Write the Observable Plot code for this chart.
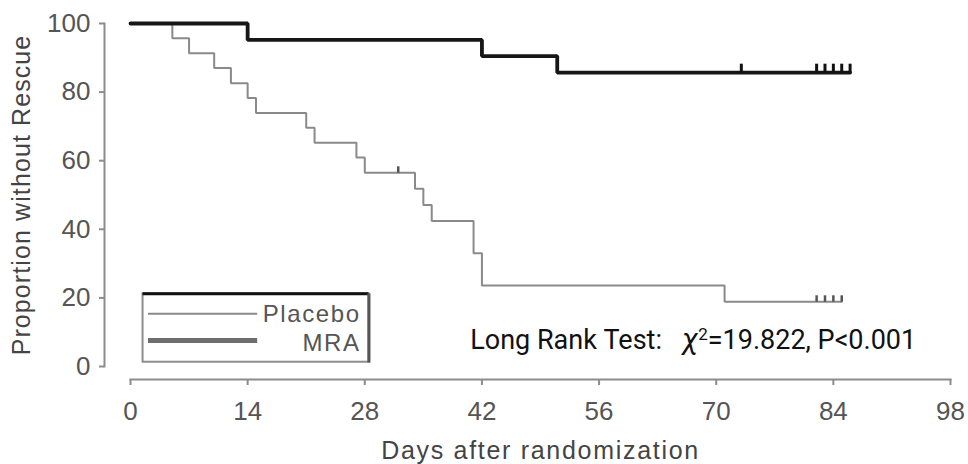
<!DOCTYPE html>
<html><head><meta charset="utf-8">
<script src="https://cdn.jsdelivr.net/npm/d3@7"></script>
<script src="https://cdn.jsdelivr.net/npm/@observablehq/plot@0.6"></script>
<style>body{margin:0;background:#fff} #chart{width:968px;height:464px}</style>
</head><body><div id="chart"></div>
<script>
// ---- data ----
const seriesNames = ["Placebo", "MRA"];
const placeboDays = [0, 5, 7, 10, 12, 14, 15, 21, 22, 27, 28, 34, 35, 36, 41, 42, 71, 85];
const placeboSurv = [100, 95.7, 91.3, 87.0, 82.6, 78.3, 73.9, 69.6, 65.2, 60.9, 56.5, 51.8, 47.1, 42.4, 33.0, 23.6, 18.9, 18.9];
const placeboCensorDays = [32, 82, 83, 84, 85];
const placeboCensorSurv = [56.5, 18.9, 18.9, 18.9, 18.9];
const mraDays = [0, 14, 42, 51, 86];
const mraSurv = [100, 95.2, 90.5, 85.7, 85.7];
const mraCensorDays = [73, 82, 83, 84, 85, 86];
const mraCensorSurv = [85.7, 85.7, 85.7, 85.7, 85.7, 85.7];
const xTicks = [0, 14, 28, 42, 56, 70, 84, 98];
const yTicks = [0, 20, 40, 60, 80, 100];
const xTitle = "Days after randomization";
const yTitle = "Proportion without Rescue";
const testText = "Long Rank Test:   χ2=19.822, P<0.001";

// ---- tables ----
const placebo = placeboDays.map((d, i) => ({day: d, surv: placeboSurv[i]}));
const mra = mraDays.map((d, i) => ({day: d, surv: mraSurv[i]}));
const placeboCens = placeboCensorDays.map((d, i) => ({day: d, surv: placeboCensorSurv[i]}));
const mraCens = mraCensorDays.map((d, i) => ({day: d, surv: mraCensorSurv[i]}));

const tickSymbol = {draw(ctx, size) { const l = Math.sqrt(size); ctx.moveTo(0, 0); ctx.lineTo(0, -l); }};
const seriesStroke = {Placebo: "#8a8a8a", MRA: "#6e6e6e"};
const seriesWidth = {Placebo: 2, MRA: 5};
const legendLineY = {Placebo: 15.4, MRA: 7.6};
const legendTextY = {Placebo: 15.2, MRA: 6.8};

const font = "'Liberation Sans', Arial, sans-serif";
const plot = Plot.plot({
  width: 968, height: 464,
  marginLeft: 130, marginRight: 18, marginTop: 23, marginBottom: 98,
  style: {fontFamily: font, fontSize: "26px", background: "#fff", overflow: "visible"},
  x: {domain: [0, 98], label: null},
  y: {domain: [0, 100], label: null},
  marks: [
    Plot.frame({anchor: "left", dx: -26, stroke: "#8c8c8c", strokeWidth: 2}),
    Plot.frame({anchor: "bottom", dy: 13, stroke: "#8c8c8c", strokeWidth: 2}),
    Plot.axisY(yTicks, {dx: -26, tickSize: 5, tickPadding: 9, stroke: "#8c8c8c", strokeWidth: 2, fill: "#555", fontSize: 26, label: null}),
    Plot.axisX(xTicks, {dy: 13, tickSize: 6, tickPadding: 16, stroke: "#8c8c8c", strokeWidth: 2, fill: "#555", fontSize: 26, label: null}),
    Plot.text([yTitle], {frameAnchor: "left", dx: -109, rotate: -90, textAnchor: "middle", lineAnchor: "middle", fontSize: 25, fill: "#444"}),
    Plot.text([xTitle], {frameAnchor: "bottom", dy: 84, textAnchor: "middle", lineAnchor: "middle", fontSize: 25, fill: "#444"}),
    // curves
    Plot.line(placebo, {x: "day", y: "surv", curve: "step-after", stroke: "#8a8a8a", strokeWidth: 2, strokeLinejoin: "miter"}),
    Plot.line(mra, {x: "day", y: "surv", curve: "step-after", stroke: "#161616", strokeWidth: 3.8, strokeLinejoin: "miter"}),
    Plot.dot(placeboCens, {x: "day", y: "surv", symbol: tickSymbol, r: 3.6, stroke: "#555", strokeWidth: 2.5, fill: "none"}),
    Plot.dot(mraCens, {x: "day", y: "surv", symbol: tickSymbol, r: 5, stroke: "#111", strokeWidth: 3, fill: "none"}),
    // legend box
    Plot.rect([0], {x1: 1.5, x2: 28.5, y1: 1.25, y2: 21.2, fill: "#fff", stroke: "#8c8c8c", strokeWidth: 2}),
    Plot.ruleY([21.2], {x1: 1.5, x2: 28.5, stroke: "#111", strokeWidth: 3}),
    Plot.ruleX([28.5], {y1: 1.0, y2: 21.2, stroke: "#555", strokeWidth: 3}),
    Plot.ruleY(seriesNames, {y: d => legendLineY[d], x1: 2.15, x2: 15.2, stroke: d => seriesStroke[d], strokeWidth: d => seriesWidth[d]}),
    Plot.text(seriesNames, {x: 27.5, y: d => legendTextY[d], text: d => d, textAnchor: "end", lineAnchor: "middle", fontSize: 24, fill: "#555"}),
    // annotation
    Plot.text([testText], {x: 40.6, y: 7.6, textAnchor: "start", lineAnchor: "middle", fontFamily: "Roboto", fontSize: 27, fill: "#111"})
  ]
});
document.getElementById("chart").appendChild(plot);

const texts = [...plot.querySelectorAll("text")];
// widen the stretched-looking labels of the reference
for (const e of texts) {
  const s = e.textContent;
  if (s === xTitle) e.setAttribute("letter-spacing", "1.7px");
  if (s === yTitle) e.setAttribute("letter-spacing", "1.1px");
  if (s === "Placebo") e.setAttribute("letter-spacing", "1.6px");
  if (s === "MRA") e.setAttribute("letter-spacing", "1.6px");
}
// rich-text the annotation: italic chi with superscript 2
const t = texts.find(e => e.textContent.startsWith("Long Rank"));
if (t) {
  const parts = testText.split("χ2");
  t.textContent = "";
  const ns = "http://www.w3.org/2000/svg";
  const add = (txt, attrs) => { const s = document.createElementNS(ns, "tspan"); s.textContent = txt; for (const k in attrs) s.setAttribute(k, attrs[k]); t.appendChild(s); };
  add(parts[0].replace(/ /g, "\u00a0"), {});
  add("χ", {"font-style": "italic", "font-size": 30});
  add("2", {"font-size": 17, dy: "-0.55em"});
  add(parts[1], {dy: "0.35em"});
}
</script>
</body></html>
